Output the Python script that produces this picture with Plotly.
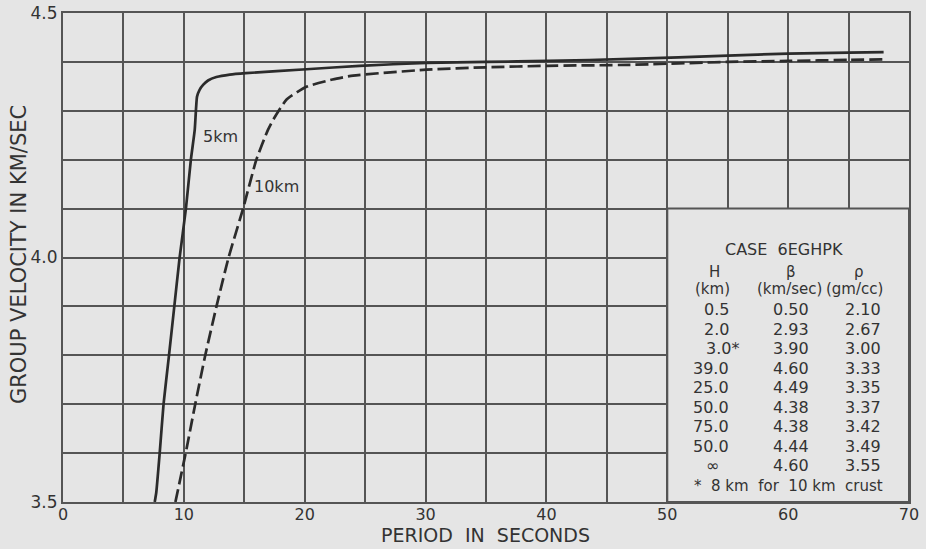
import plotly.graph_objects as go

# ---- data ----
period_5km = [7.59, 7.72, 8.0, 8.32, 8.77, 9.21, 9.65, 10.17, 10.58, 10.9, 11.09, 11.3,
              11.59, 12.0, 12.69, 13.8, 15.12, 20.14, 24.55, 30.07, 35.0, 40.1, 46.9,
              55.0, 60.0, 65.0, 67.9]
vel_5km = [3.50, 3.52, 3.60, 3.70, 3.80, 3.90, 4.00, 4.10, 4.20, 4.261, 4.329, 4.343,
           4.353, 4.362, 4.369, 4.374, 4.377, 4.385, 4.392, 4.398, 4.400, 4.402, 4.406,
           4.413, 4.417, 4.419, 4.420]

period_10km = [9.30, 10.15, 10.94, 11.77, 12.7, 13.7, 14.9, 16.0, 16.96, 17.4, 18.5,
               20.14, 22.3, 24.0, 30.07, 35.0, 40.1, 46.9, 55.0, 60.0, 65.0, 67.9]
vel_10km = [3.50, 3.60, 3.70, 3.80, 3.90, 4.00, 4.10, 4.20, 4.261, 4.282, 4.323,
            4.349, 4.364, 4.372, 4.384, 4.389, 4.392, 4.394, 4.400, 4.402, 4.404, 4.405]

x_ticks = [0, 10, 20, 30, 40, 50, 60, 70]
y_ticks = [3.5, 4.0, 4.5]
y_ticklabels = ["3.5", "4.0", "4.5"]

table_title = "CASE\u00a0\u00a06EGHPK"
table_head1 = ["H", "β", "ρ"]
table_head2 = ["(km)", "(km/sec)", "(gm/cc)"]
H_vals = ["0.5", "2.0", "3.0*", "39.0", "25.0", "50.0", "75.0", "50.0", "∞"]
beta_vals = ["0.50", "2.93", "3.90", "4.60", "4.49", "4.38", "4.38", "4.44", "4.60"]
rho_vals = ["2.10", "2.67", "3.00", "3.33", "3.35", "3.37", "3.42", "3.49", "3.55"]
footnote = "*\u00a0\u00a08 km\u00a0\u00a0for\u00a0\u00a010 km\u00a0\u00a0crust"

# ---- styling ----
BG = "#e5e5e5"
GRID = "#555555"
INK = "#2b2b2b"
TXT = "#333333"
FONT = "DejaVu Sans"

fig = go.Figure()
fig.add_trace(go.Scatter(x=period_5km, y=vel_5km, mode="lines",
                         line=dict(color=INK, width=2.7, shape="spline", smoothing=0.5),
                         showlegend=False))
fig.add_trace(go.Scatter(x=period_10km, y=vel_10km, mode="lines",
                         line=dict(color=INK, width=2.7, dash="13px,5px",
                                   shape="spline", smoothing=0.5),
                         showlegend=False))

# blank box for the table (covers grid)
fig.add_shape(type="rect", x0=50, x1=70, y0=3.5, y1=4.1, xref="x", yref="y",
              fillcolor=BG, line=dict(color=GRID, width=2), layer="between")

ann = []
def A(text, x, y, xanchor="center", size=15, xref="x", yref="y", **kw):
    ann.append(dict(text=text, x=x, y=y, xref=xref, yref=yref, xanchor=xanchor,
                    yanchor="middle", showarrow=False,
                    font=dict(family=FONT, size=size, color=TXT), **kw))

# curve labels
A("5km", 13.05, 4.247, size=16)
A("10km", 17.67, 4.145, size=16)

# table
col_H, col_b, col_r = 55.27, 60.27, 66.19
A(table_title, 59.63, 4.016, size=16)
A(table_head1[0], 53.92, 3.971, size=15)
A(table_head1[1], col_b, 3.971, size=15)
A(table_head1[2], 65.9, 3.971, size=15)
A(table_head2[0], 53.78, 3.935, size=15)
A(table_head2[1], 60.13, 3.935, size=15)
A(table_head2[2], 65.5, 3.935, size=15)
row0, step = 3.893, 0.0398
for i in range(len(H_vals)):
    yy = row0 - i * step
    h = H_vals[i]
    if h == "∞":
        A(h, 53.75, yy, size=16)
    elif h.endswith("*"):
        A(h, col_H + 0.85, yy, xanchor="right", size=16)
    else:
        A(h, col_H, yy, xanchor="right", size=16)
    A(beta_vals[i], col_b, yy, size=16)
    A(rho_vals[i], col_r, yy, size=16)
A(footnote, 60.04, 3.533, size=15)

# axis titles
A("PERIOD\u00a0\u00a0IN\u00a0\u00a0SECONDS", 0.499, -0.068, xref="paper", yref="paper", size=19)
A("GROUP VELOCITY IN KM/SEC", -0.052, 0.505, xref="paper", yref="paper", size=21,
  textangle=-90)

grid_x = list(range(0, 75, 5))
grid_y = [round(3.5 + 0.1 * k, 2) for k in range(11)]

fig.update_layout(
    width=926, height=549,
    margin=dict(l=63, r=17, t=13, b=47),
    paper_bgcolor=BG, plot_bgcolor=BG,
    annotations=ann,
    xaxis=dict(range=[0, 70], tickvals=grid_x, automargin=False,
               ticktext=[str(v) if v in x_ticks else "" for v in grid_x],
               showgrid=True, gridcolor=GRID, gridwidth=2, zeroline=False,
               showline=True, linecolor=GRID, linewidth=2, mirror=True,
               ticks="", ticklabelstandoff=-3,
               tickfont=dict(family=FONT, size=16, color=TXT)),
    yaxis=dict(range=[3.5, 4.5], tickvals=grid_y, automargin=False,
               ticktext=[y_ticklabels[y_ticks.index(v)] if v in y_ticks else "" for v in grid_y],
               showgrid=True, gridcolor=GRID, gridwidth=2, zeroline=False,
               showline=True, linecolor=GRID, linewidth=2, mirror=True,
               ticks="", tickfont=dict(family=FONT, size=17, color=TXT)),
)

fig.write_html("out.html")
